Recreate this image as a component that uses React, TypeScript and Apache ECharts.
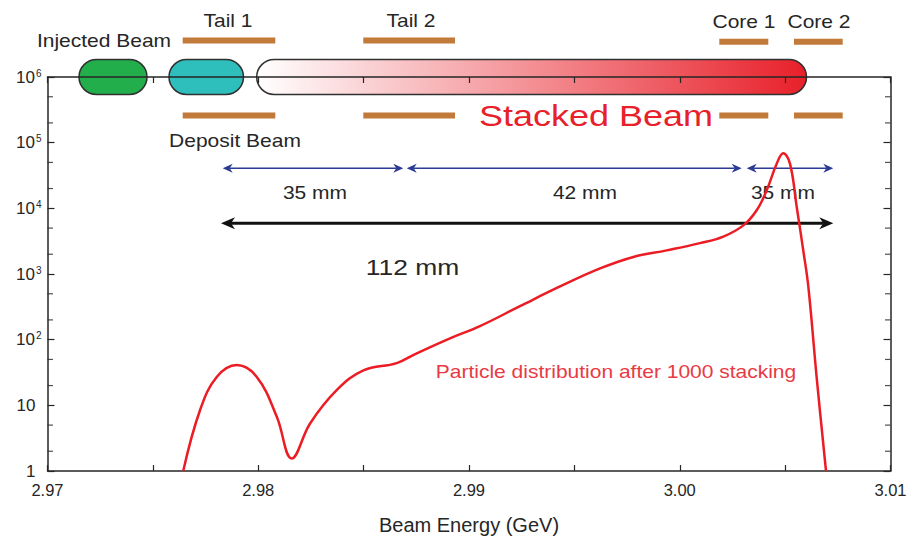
import React, { useEffect, useRef } from "react";
import * as echarts from "echarts";

// ---- data ----
const energy = [
  2.97644, 2.97724, 2.97803, 2.97898, 2.97993, 2.98088, 2.98159, 2.98246,
  2.98372, 2.98499, 2.98657, 2.98752, 2.9891, 2.99052, 2.99242, 2.99432,
  2.99622, 2.9978, 2.99938, 3.00096, 3.00207, 3.00302, 3.00365, 3.00413,
  3.0046, 3.00491, 3.00523, 3.00555, 3.00586, 3.0061, 3.00651, 3.00694,
];
const particles = [
  1, 8.5, 27, 41, 27, 6.7, 1.55, 5.3, 17, 34, 44, 62, 105, 161, 324, 646,
  1216, 1820, 2290, 2950, 3720, 5500, 9330, 19000, 47900, 69000, 47900, 10500,
  2290, 646, 24, 1,
];
const minorTickValues = [2, 5, 20, 50, 200, 500, 2000, 5000, 2e4, 5e4, 2e5, 5e5];
const xMin = 2.97;
const xMax = 3.01;
const xTickStep = 0.005;
const yMin = 1;
const yMax = 1e6;
const xAxisTitle = "Beam Energy (GeV)";
const seriesLabel = "Particle distribution after 1000 stacking";

const FONT = "'Liberation Sans', Arial, Helvetica, sans-serif";
const DARK = "#262626";
const RED = "#ec1c24";
const BROWN = "#c27a3a";
const BLUE = "#2b3a94";

function label(text: string, x: number, y: number, size: number, color = DARK, z = 3) {
  return {
    type: "text",
    x,
    y,
    scaleX: 1.2,
    z,
    style: {
      text,
      fontSize: size,
      fontFamily: FONT,
      fill: color,
      align: "center",
      verticalAlign: "middle",
    },
  };
}

function bar(x1: number, x2: number, yc: number) {
  return {
    type: "rect",
    z: 1,
    shape: { x: x1, y: yc - 3, width: x2 - x1, height: 6 },
    style: { fill: BROWN },
  };
}

function pill(x1: number, x2: number, fill: any) {
  return {
    type: "rect",
    z: 1,
    shape: { x: x1, y: 59.5, width: x2 - x1, height: 35, r: 17.5 },
    style: { fill, stroke: "#303030", lineWidth: 1.5 },
  };
}

function head(tipX: number, y: number, dir: number, len: number, half: number, notch: number, color: string) {
  return {
    type: "polygon",
    z: 2,
    shape: {
      points: [
        [tipX, y],
        [tipX + dir * len, y - half],
        [tipX + dir * notch, y],
        [tipX + dir * len, y + half],
      ],
    },
    style: { fill: color },
  };
}

function arrow(x1: number, x2: number, y: number, color: string, lw: number, len: number, half: number, notch: number) {
  return [
    {
      type: "line",
      z: 2,
      shape: { x1: x1 + notch, y1: y, x2: x2 - notch, y2: y },
      style: { stroke: color, lineWidth: lw },
    },
    head(x1, y, 1, len, half, notch, color),
    head(x2, y, -1, len, half, notch, color),
  ];
}

export default function App() {
  const ref = useRef<HTMLDivElement>(null);
  useEffect(() => {
    document.body.style.margin = "0";
    if (!ref.current) return;
    const chart = echarts.init(ref.current, null, { renderer: "svg" });

    const xAxisCommon = {
      type: "value",
      min: xMin,
      max: xMax,
      interval: xTickStep,
      z: 4,
      splitLine: { show: false },
      axisLine: { show: true, lineStyle: { color: DARK, width: 1.5 } },
      axisTick: { show: true, inside: true, length: 6, lineStyle: { color: DARK, width: 1.2 } },
    };
    const yAxisCommon = {
      type: "log",
      logBase: 10,
      min: yMin,
      max: yMax,
      splitNumber: 6,
      z: 4,
      splitLine: { show: false },
      axisLine: { show: true, lineStyle: { color: DARK, width: 1.5 } },
      axisTick: { show: true, inside: true, length: 7, lineStyle: { color: DARK, width: 1.2 } },
    };

    const graphics: any[] = [
      pill(79, 147, "#22ae4a"),
      pill(169, 243.5, "#2ebfbd"),
      pill(256.7, 806.5, {
        type: "linear",
        x: 0,
        y: 0,
        x2: 1,
        y2: 0,
        colorStops: [
          { offset: 0, color: "#ffffff" },
          { offset: 1, color: "#e8202a" },
        ],
      }),
      bar(182.7, 275.3, 40.5),
      bar(182.7, 275.3, 115.5),
      bar(363.3, 455, 40.5),
      bar(363.3, 455, 115.5),
      bar(719.3, 768.3, 41.7),
      bar(719.3, 768.3, 115.5),
      bar(794, 842.7, 41.7),
      bar(794, 842.7, 115.5),
      ...arrow(222.7, 403.3, 168.3, BLUE, 1.5, 10, 4.5, 7),
      ...arrow(406.7, 741.7, 168.3, BLUE, 1.5, 10, 4.5, 7),
      ...arrow(746.7, 833.3, 168.3, BLUE, 1.5, 10, 4.5, 7),
      ...arrow(221, 833.3, 223.3, "#111111", 3, 14, 6, 10),
      label("Injected Beam", 104, 41, 17.5),
      label("Tail 1", 228, 21, 17.5),
      label("Tail 2", 411, 21, 17.5),
      label("Core 1", 744, 22, 17.5),
      label("Core 2", 819, 22, 17.5),
      label("Deposit Beam", 235, 141, 17.5),
      label("Stacked Beam", 596, 116, 30, "#e8202a"),
      label("35 mm", 315, 193, 17.5),
      label("42 mm", 585, 193, 17.5),
      label("35 mm", 783, 193, 17.5),
      label("112 mm", 412.5, 267, 22),
      label(seriesLabel, 616, 372, 17.5, "#e83a44"),
    ];

    chart.setOption({
      animation: false,
      backgroundColor: "#ffffff",
      grid: {
        left: 47.5,
        right: 18.5,
        top: 77,
        bottom: 66,
        containLabel: false,
        outerBoundsMode: "none",
      },
      xAxis: [
        {
          ...xAxisCommon,
          position: "bottom",
          name: xAxisTitle,
          nameLocation: "middle",
          nameGap: 44,
          nameTextStyle: { fontSize: 20, color: DARK, fontFamily: FONT },
          axisLabel: {
            show: true,
            margin: 10,
            fontSize: 16.5,
            color: DARK,
            fontFamily: FONT,
            showMinLabel: true,
            showMaxLabel: true,
            formatter: (v: number) => {
              const h = v * 100;
              return Math.abs(h - Math.round(h)) < 1e-6 ? v.toFixed(2) : "";
            },
          },
        },
        {
          ...xAxisCommon,
          position: "top",
          axisLabel: { show: false },
        },
      ],
      yAxis: [
        {
          ...yAxisCommon,
          position: "left",
          axisLabel: {
            show: true,
            margin: 6,
            fontSize: 17,
            lineHeight: 18,
            color: DARK,
            fontFamily: FONT,
            formatter: (v: number) => {
              const e = Math.round(Math.log10(v));
              if (e === 0) return "1{pad|}";
              if (e === 1) return "10{pad|}";
              return "10{sup|" + e + "}";
            },
            rich: {
              sup: { fontSize: 10, verticalAlign: "top", lineHeight: 10, color: DARK, fontFamily: FONT, padding: [0, 0, 0, 1] },
              pad: { width: 6 },
            },
          },
        },
        {
          ...yAxisCommon,
          position: "right",
          axisLabel: { show: false },
        },
      ],
      series: [
        {
          name: seriesLabel,
          type: "line",
          xAxisIndex: 0,
          yAxisIndex: 0,
          data: energy.map((x, i) => [x, particles[i]]),
          smooth: 0.4,
          showSymbol: false,
          symbol: "none",
          z: 5,
          lineStyle: { color: RED, width: 2.5 },
        },
        {
          type: "scatter",
          xAxisIndex: 0,
          yAxisIndex: 0,
          data: minorTickValues.map((v) => [xMin, v]),
          symbol: "rect",
          symbolSize: [5.5, 1.2],
          symbolOffset: [2.75, 0],
          clip: false,
          silent: true,
          z: 4,
          itemStyle: { color: DARK },
        },
        {
          type: "scatter",
          xAxisIndex: 0,
          yAxisIndex: 0,
          data: minorTickValues.map((v) => [xMax, v]),
          symbol: "rect",
          symbolSize: [5.5, 1.2],
          symbolOffset: [-2.75, 0],
          clip: false,
          silent: true,
          z: 4,
          itemStyle: { color: DARK },
        },
      ],
      graphic: graphics,
    });

    return () => chart.dispose();
  }, []);

  return <div ref={ref} style={{ width: 909, height: 537 }} />;
}
